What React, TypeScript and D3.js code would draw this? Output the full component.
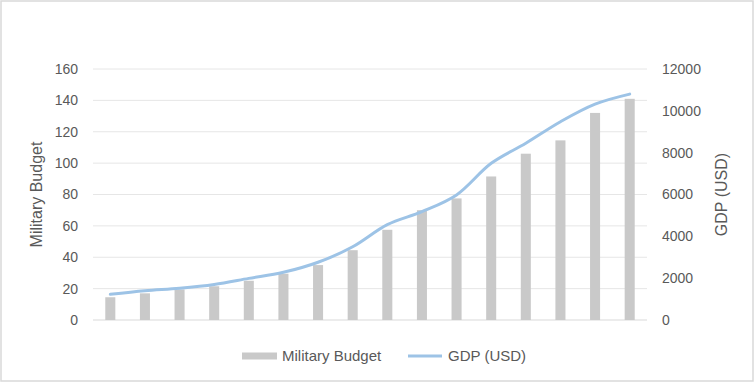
import React, { useEffect, useRef } from 'react';
import * as d3 from 'd3';

// Data
const years = ['1', '2', '3', '4', '5', '6', '7', '8', '9', '10', '11', '12', '13', '14', '15', '16'];
const militaryBudget = [14.5, 17, 19.5, 21.5, 25, 29.5, 35, 44.5, 57.5, 70, 77.5, 91.5, 106, 114.5, 132, 141];
const gdpUsd = [1230, 1400, 1520, 1700, 1990, 2280, 2760, 3500, 4560, 5180, 5980, 7490, 8450, 9480, 10320, 10800];
const leftTicks = [0, 20, 40, 60, 80, 100, 120, 140, 160];
const rightTicks = [0, 2000, 4000, 6000, 8000, 10000, 12000];

const W = 756;
const H = 384;
const FONT = '"Liberation Sans", Arial, sans-serif';
const TEXT = '#595959';

const App = () => {
  const ref = useRef<SVGSVGElement | null>(null);

  useEffect(() => {
    if (!ref.current) return;
    const svg = d3.select(ref.current);
    svg.selectAll('*').remove();

    const plot = { left: 93, right: 647, top: 69, bottom: 320 };

    // chart frame
    svg.append('rect')
      .attr('x', 1).attr('y', 1)
      .attr('width', W - 4).attr('height', H - 4)
      .attr('fill', '#fff')
      .attr('stroke', '#d9d9d9')
      .attr('stroke-width', 1.5);

    const x = d3.scaleBand()
      .domain(years)
      .range([plot.left, plot.right])
      .paddingInner(0.71)
      .paddingOuter(0.355);

    const yLeft = d3.scaleLinear().domain([0, 160]).range([plot.bottom, plot.top]);
    const yRight = d3.scaleLinear().domain([0, 12000]).range([plot.bottom, plot.top]);

    // gridlines
    svg.append('g')
      .selectAll('line')
      .data(leftTicks)
      .enter().append('line')
      .attr('x1', plot.left).attr('x2', plot.right)
      .attr('y1', d => yLeft(d)).attr('y2', d => yLeft(d))
      .attr('stroke', d => (d === 0 ? '#d9d9d9' : '#e6e6e6'))
      .attr('stroke-width', 1);

    // bars
    svg.append('g')
      .selectAll('rect')
      .data(militaryBudget)
      .enter().append('rect')
      .attr('x', (d, i) => x(years[i]) as number)
      .attr('y', d => yLeft(d))
      .attr('width', x.bandwidth())
      .attr('height', d => plot.bottom - yLeft(d))
      .attr('fill', '#c9c9c9');

    // GDP line
    const line = d3.line<number>()
      .x((d, i) => (x(years[i]) as number) + x.bandwidth() / 2)
      .y(d => yRight(d))
      .curve(d3.curveCatmullRom.alpha(0.5));

    svg.append('path')
      .datum(gdpUsd)
      .attr('d', line)
      .attr('fill', 'none')
      .attr('stroke', '#9dc3e6')
      .attr('stroke-width', 3)
      .attr('stroke-linecap', 'round');

    // left axis labels
    svg.append('g')
      .selectAll('text')
      .data(leftTicks)
      .enter().append('text')
      .attr('x', 78)
      .attr('y', d => yLeft(d))
      .attr('dy', '0.35em')
      .attr('text-anchor', 'end')
      .attr('font-family', FONT)
      .attr('font-size', 14)
      .attr('fill', TEXT)
      .text(d => d);

    // right axis labels
    svg.append('g')
      .selectAll('text')
      .data(rightTicks)
      .enter().append('text')
      .attr('x', 662)
      .attr('y', d => yRight(d))
      .attr('dy', '0.35em')
      .attr('text-anchor', 'start')
      .attr('font-family', FONT)
      .attr('font-size', 14)
      .attr('fill', TEXT)
      .text(d => d);

    // axis titles
    svg.append('text')
      .attr('transform', `translate(42,${(plot.top + plot.bottom) / 2}) rotate(-90)`)
      .attr('text-anchor', 'middle')
      .attr('font-family', FONT)
      .attr('font-size', 16)
      .attr('fill', TEXT)
      .text('Military Budget');

    svg.append('text')
      .attr('transform', `translate(727,${(plot.top + plot.bottom) / 2}) rotate(-90)`)
      .attr('text-anchor', 'middle')
      .attr('font-family', FONT)
      .attr('font-size', 16)
      .attr('fill', TEXT)
      .text('GDP (USD)');

    // legend
    const lg = svg.append('g');
    lg.append('rect')
      .attr('x', 242).attr('y', 352.5)
      .attr('width', 35).attr('height', 7)
      .attr('fill', '#c9c9c9');
    lg.append('text')
      .attr('x', 282).attr('y', 356)
      .attr('dy', '0.35em')
      .attr('font-family', FONT)
      .attr('font-size', 15)
      .attr('fill', TEXT)
      .text('Military Budget');
    lg.append('line')
      .attr('x1', 408).attr('x2', 442)
      .attr('y1', 356).attr('y2', 356)
      .attr('stroke', '#9dc3e6')
      .attr('stroke-width', 3);
    lg.append('text')
      .attr('x', 448).attr('y', 356)
      .attr('dy', '0.35em')
      .attr('font-family', FONT)
      .attr('font-size', 15)
      .attr('fill', TEXT)
      .text('GDP (USD)');
  }, []);

  return (
    <svg
      ref={ref}
      width={W}
      height={H}
      style={{ position: 'absolute', left: 0, top: 0, background: '#fff' }}
    />
  );
};

export default App;
